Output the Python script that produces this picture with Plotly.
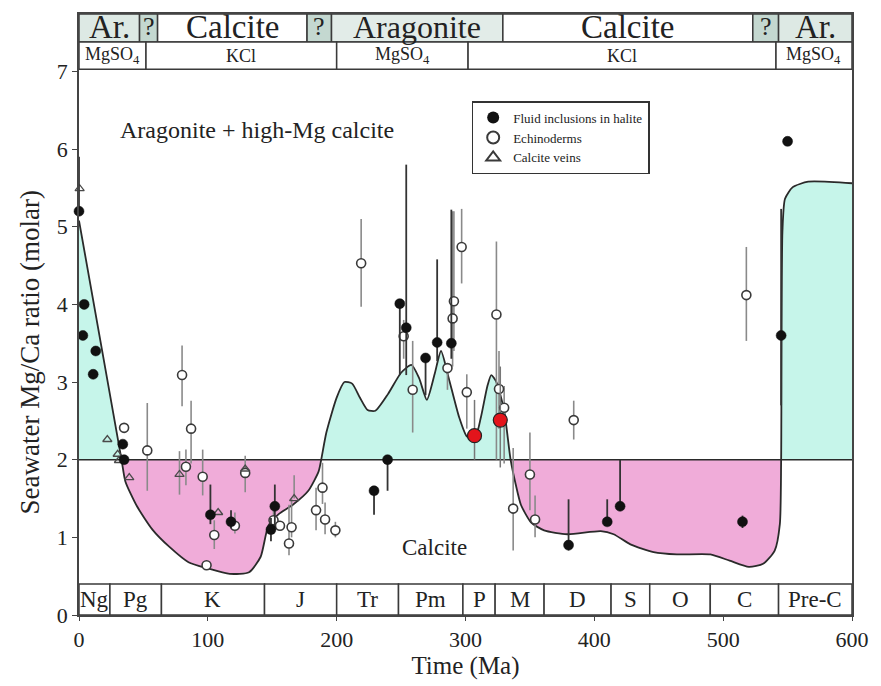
import plotly.graph_objects as go

# ---------------- data ----------------
# Mg/Ca envelope curve (Ma, molar ratio)
curve_ma = [0, 33, 36, 45, 57, 70, 85, 100, 117, 132, 141, 147, 155, 166, 178, 186, 188,
            192, 200, 206, 212, 218, 224, 230, 240, 250, 258, 264, 270, 276, 281, 287, 295,
            301, 307, 312, 317, 320, 324, 330, 335, 339, 343, 351, 361, 379, 405, 415, 428,
            446, 464, 490, 505, 520, 531, 540, 544, 545, 546, 548, 554, 566, 600]
curve_val = [5.08, 2.0, 1.72, 1.40, 1.10, 0.88, 0.68, 0.60, 0.53, 0.55, 0.75, 1.15, 1.30, 1.42, 1.60, 1.85, 2.0,
             2.35, 2.80, 3.00, 2.98, 2.80, 2.64, 2.63, 2.85, 3.12, 3.22, 3.05, 2.77, 3.10, 3.40, 3.05, 2.55,
             2.30, 2.26, 2.55, 2.95, 3.09, 3.00, 2.63, 2.0, 1.68, 1.42, 1.19, 1.09, 1.04, 1.08, 1.04, 0.91,
             0.81, 0.78, 0.78, 0.70, 0.62, 0.66, 0.83, 1.17, 2.0, 4.94, 5.36, 5.51, 5.58, 5.56]

# Fluid inclusions in halite (filled circles): age, value, bar top, bar bottom
fluid_ma = [0, 4, 3, 13, 11, 34, 35, 102, 118, 152, 149, 229, 239.5, 249, 254, 269, 278, 289,
            380, 410, 420, 515, 550, 545]
fluid_val = [5.2, 4.0, 3.6, 3.4, 3.1, 2.2, 2.0, 1.29, 1.2, 1.40, 1.10, 1.6, 2.0, 4.01, 3.7, 3.31, 3.51, 3.5,
             0.9, 1.2, 1.4, 1.2, 6.1, 3.6]
fluid_hi = [5.9, 4.0, 3.6, 3.4, 3.1, 2.2, 2.0, 1.68, 1.35, 1.68, 1.25, 1.6, 2.0, 4.01, 5.8, 3.31, 4.58, 5.22,
            1.49, 1.49, 2.0, 1.28, 6.1, 5.23]
fluid_lo = [5.2, 4.0, 3.6, 3.4, 3.1, 2.2, 2.0, 1.17, 1.12, 1.13, 0.95, 1.29, 1.6, 3.09, 3.09, 2.83, 3.27, 3.3,
            0.83, 1.15, 1.4, 1.12, 6.1, 2.7]

# Highlighted fluid inclusion points (red)
red_ma = [307, 327]
red_val = [2.31, 2.51]
red_hi = [2.77, 3.2]
red_lo = [2.0, 1.9]

# Echinoderms (open circles)
echi_ma = [35, 53, 80, 87, 83, 96, 129, 105, 121, 99, 151, 156, 163, 165, 189, 184, 191, 199,
           219, 252, 259, 286, 290, 291, 297, 301, 324, 326, 330, 384, 350, 337, 354, 518]
echi_val = [2.41, 2.12, 3.09, 2.40, 1.91, 1.78, 1.83, 1.03, 1.15, 0.64, 1.22, 1.15, 0.92, 1.13, 1.64, 1.35, 1.23, 1.09,
            4.53, 3.59, 2.9, 3.18, 3.82, 4.04, 4.74, 2.87, 3.87, 2.91, 2.67, 2.51, 1.81, 1.37, 1.23, 4.12]
echi_hi = [2.41, 2.73, 3.47, 2.76, 2.13, 2.13, 2.05, 1.22, 1.32, 0.64, 1.35, 1.15, 1.42, 1.5, 1.96, 1.64, 1.45, 1.2,
           5.1, 3.8, 3.53, 3.18, 5.2, 5.2, 5.23, 3.1, 4.81, 3.4, 2.95, 2.76, 2.35, 2.15, 1.54, 4.74]
echi_lo = [2.41, 1.6, 2.69, 1.95, 1.67, 1.54, 1.58, 0.85, 1.05, 0.64, 1.05, 1.15, 0.77, 1.0, 1.43, 1.09, 1.04, 1.0,
           3.97, 3.3, 2.35, 2.9, 3.2, 3.4, 4.27, 2.4, 2.0, 2.4, 1.95, 2.26, 1.35, 0.83, 1.0, 3.53]

# Calcite veins (open triangles)
vein_ma = [0.5, 22, 30, 31, 39, 78, 108, 129, 167]
vein_val = [5.49, 2.26, 2.07, 1.99, 1.77, 1.81, 1.32, 1.88, 1.5]
vein_hi = [5.49, 2.26, 2.07, 1.99, 1.77, 2.11, 1.32, 1.88, 1.8]
vein_lo = [5.49, 2.26, 2.07, 1.99, 1.77, 1.55, 1.32, 1.88, 1.5]

# Top band: mineralogy
mineral_edges = [0, 47, 61, 177, 196, 329, 523, 543, 600]
mineral_labels = ["Ar.", "?", "Calcite", "?", "Aragonite", "Calcite", "?", "Ar."]
mineral_fill = ["#dde9e4", "#c4d8d0", "#ffffff", "#c4d8d0", "#e2ece8", "#ffffff", "#c4d8d0", "#dde9e4"]
mineral_size = [33, 26, 33, 26, 32, 33, 26, 33]

# Second band: evaporite type
salt_edges = [0, 52, 200, 302, 541, 600]
salt_labels = ["MgSO<sub>4</sub>", "KCl", "MgSO<sub>4</sub>", "KCl", "MgSO<sub>4</sub>"]

# Bottom band: periods
period_edges = [0, 24, 64, 144, 200, 248, 298, 323, 361, 413, 443, 490, 543, 600]
period_labels = ["Ng", "Pg", "K", "J", "Tr", "Pm", "P", "M", "D", "S", "O", "C", "Pre-C"]

x_ticks = [0, 100, 200, 300, 400, 500, 600]
y_ticks = [0, 1, 2, 3, 4, 5, 6, 7]

BASE = 2.0
Y_TOP = 7.74
BAND1 = (7.38, 7.74)
BAND2 = (7.03, 7.38)
BAND3 = (0.0, 0.40)

SERIF = "Liberation Serif, Times New Roman, serif"
CYAN = "#c6f5ea"
PINK = "#f0acd9"
LINE = "#2a2a2a"

fig = go.Figure()

# ------------- fills -------------
upper = [max(v, BASE) for v in curve_val]
lower = [min(v, BASE) for v in curve_val]
fig.add_trace(go.Scatter(x=curve_ma, y=[BASE] * len(curve_ma), mode="lines",
                         line=dict(width=0), showlegend=False, hoverinfo="skip"))
fig.add_trace(go.Scatter(x=curve_ma, y=upper, mode="lines", line=dict(width=0),
                         fill="tonexty", fillcolor=CYAN, showlegend=False, hoverinfo="skip"))
fig.add_trace(go.Scatter(x=curve_ma, y=[BASE] * len(curve_ma), mode="lines",
                         line=dict(width=0), showlegend=False, hoverinfo="skip"))
fig.add_trace(go.Scatter(x=curve_ma, y=lower, mode="lines", line=dict(width=0),
                         fill="tonexty", fillcolor=PINK, showlegend=False, hoverinfo="skip"))

# baseline y=2
fig.add_trace(go.Scatter(x=[0, 600], y=[BASE, BASE], mode="lines",
                         line=dict(color=LINE, width=1.6), showlegend=False, hoverinfo="skip"))
# curve
fig.add_trace(go.Scatter(x=curve_ma, y=curve_val, mode="lines",
                         line=dict(color=LINE, width=1.8, shape="spline", smoothing=0.6),
                         showlegend=False, hoverinfo="skip"))


def err(vals, hi, lo):
    return [h - v for v, h in zip(vals, hi)], [v - l for v, l in zip(vals, lo)]


ep, em = err(echi_val, echi_hi, echi_lo)
fig.add_trace(go.Scatter(x=echi_ma, y=echi_val, mode="markers", showlegend=False, cliponaxis=False,
                         error_y=dict(type="data", symmetric=False, array=ep, arrayminus=em,
                                      color="#8a8a8a", thickness=1.6, width=0),
                         marker=dict(symbol="circle", size=9, color="white",
                                     line=dict(color="#3a3a3a", width=1.6))))
vp, vm = err(vein_val, vein_hi, vein_lo)
fig.add_trace(go.Scatter(x=vein_ma, y=vein_val, mode="markers", showlegend=False, cliponaxis=False,
                         error_y=dict(type="data", symmetric=False, array=vp, arrayminus=vm,
                                      color="#8a8a8a", thickness=1.6, width=0),
                         marker=dict(symbol="triangle-up-open", size=8, color="#4a4a4a",
                                     line=dict(color="#4a4a4a", width=1.3))))
fp, fm = err(fluid_val, fluid_hi, fluid_lo)
fig.add_trace(go.Scatter(x=fluid_ma, y=fluid_val, mode="markers", showlegend=False, cliponaxis=False,
                         error_y=dict(type="data", symmetric=False, array=fp, arrayminus=fm,
                                      color="#333333", thickness=1.8, width=0),
                         marker=dict(symbol="circle", size=10, color="#111111",
                                     line=dict(color="#111111", width=0.5))))
rp, rm = err(red_val, red_hi, red_lo)
fig.add_trace(go.Scatter(x=red_ma, y=red_val, mode="markers", showlegend=False,
                         error_y=dict(type="data", symmetric=False, array=rp, arrayminus=rm,
                                      color="#777777", thickness=1.5, width=0),
                         marker=dict(symbol="circle", size=14, color="#e3141b",
                                     line=dict(color="#222222", width=1.2))))

# legend entries
fig.add_trace(go.Scatter(x=[None], y=[None], mode="markers", name="Fluid inclusions in halite",
                         marker=dict(symbol="circle", size=10, color="#111111")))
fig.add_trace(go.Scatter(x=[None], y=[None], mode="markers", name="Echinoderms",
                         marker=dict(symbol="circle", size=9, color="white",
                                     line=dict(color="#3a3a3a", width=1.6))))
fig.add_trace(go.Scatter(x=[None], y=[None], mode="markers", name="Calcite veins",
                         marker=dict(symbol="triangle-up-open", size=9, color="#3a3a3a",
                                     line=dict(color="#3a3a3a", width=1.4))))

shapes = []
annotations = []

# top band 1
for i, lab in enumerate(mineral_labels):
    x0, x1 = mineral_edges[i], mineral_edges[i + 1]
    shapes.append(dict(type="rect", xref="x", yref="y", x0=x0, x1=x1, y0=BAND1[0], y1=BAND1[1],
                       fillcolor=mineral_fill[i], line=dict(color="#3a3a3a", width=1.5), layer="above"))
    annotations.append(dict(x=(x0 + x1) / 2, y=(BAND1[0] + BAND1[1]) / 2, xref="x", yref="y",
                            text=lab, showarrow=False, yshift=1,
                            font=dict(family=SERIF, size=mineral_size[i], color="#222")))
# band 2
for i, lab in enumerate(salt_labels):
    x0, x1 = salt_edges[i], salt_edges[i + 1]
    shapes.append(dict(type="rect", xref="x", yref="y", x0=x0, x1=x1, y0=BAND2[0], y1=BAND2[1],
                       fillcolor="white", line=dict(color="#3a3a3a", width=1.5), layer="above"))
    annotations.append(dict(x=(x0 + x1) / 2, y=(BAND2[0] + BAND2[1]) / 2, xref="x", yref="y",
                            text=lab, showarrow=False,
                            font=dict(family=SERIF, size=18, color="#222")))
# bottom band
for i, lab in enumerate(period_labels):
    x0, x1 = period_edges[i], period_edges[i + 1]
    shapes.append(dict(type="rect", xref="x", yref="y", x0=x0, x1=x1, y0=BAND3[0], y1=BAND3[1],
                       fillcolor="white", line=dict(color="#3a3a3a", width=1.5), layer="above"))
    annotations.append(dict(x=(x0 + x1) / 2, y=(BAND3[0] + BAND3[1]) / 2, xref="x", yref="y",
                            text=lab, showarrow=False,
                            font=dict(family=SERIF, size=23, color="#222")))

annotations.append(dict(x=138, y=6.24, xref="x", yref="y", text="Aragonite + high-Mg calcite",
                        showarrow=False, font=dict(family=SERIF, size=24, color="#222")))
annotations.append(dict(x=276, y=0.87, xref="x", yref="y", text="Calcite",
                        showarrow=False, font=dict(family=SERIF, size=23, color="#222")))
# y-axis title placed at its pixel position (x=30px, y=354px) in paper coordinates
annotations.append(dict(x=(30 - 79) / 777, y=(618 - 354) / 604, xref="paper", yref="paper",
                        xanchor="center", yanchor="middle",
                        text="Seawater Mg/Ca ratio (molar)", textangle=-90, showarrow=False,
                        font=dict(family=SERIF, size=27, color="#222")))

fig.update_layout(
    width=881, height=686, autosize=False,
    margin=dict(l=79, r=25, t=14, b=68),
    paper_bgcolor="white", plot_bgcolor="white",
    shapes=shapes, annotations=annotations,
    showlegend=True,
    legend=dict(x=0.508, y=0.855, xanchor="left", yanchor="top", traceorder="normal",
                bgcolor="white", bordercolor="#333", borderwidth=1.5,
                font=dict(family=SERIF, size=13, color="#222"),
                itemsizing="constant", tracegroupgap=0, itemwidth=30),
    xaxis=dict(range=[0, 600], tickvals=x_ticks, ticks="outside", ticklen=4,
               tickcolor="#444", showgrid=False, zeroline=False,
               showline=True, linecolor="#444", linewidth=1.5, mirror=True,
               tickfont=dict(family=SERIF, size=22, color="#222"),
               title=dict(text="Time (Ma)", font=dict(family=SERIF, size=25, color="#222"),
                          standoff=4)),
    yaxis=dict(range=[0, Y_TOP], tickvals=y_ticks, ticks="outside", ticklen=5,
               tickcolor="#444", showgrid=False, zeroline=False,
               showline=True, linecolor="#444", linewidth=1.5, mirror=True,
               tickfont=dict(family=SERIF, size=22, color="#222")),
)

fig.write_html("out.html")
